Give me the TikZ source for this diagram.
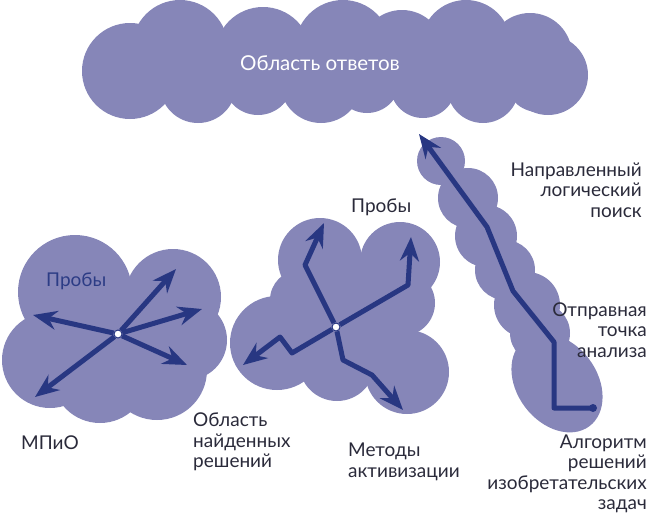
\documentclass[tikz,border=0pt]{standalone}
\usepackage{fontspec}
\setmainfont{Lato}
\usetikzlibrary{arrows.meta}
\definecolor{cloudc}{HTML}{8686B8}
\definecolor{navy}{HTML}{283782}
\definecolor{txt}{HTML}{2A2A3A}
\definecolor{lblnavy}{HTML}{2C3C85}
\begin{document}
\begin{tikzpicture}[x=1pt,y=-1pt,
  cloud/.style={fill=cloudc},
  arr/.style={draw=navy,line width=5pt,line join=round,-{Stealth[length=24pt,width=19pt,inset=8pt]}},
  lbl/.style={font=\fontsize{19}{20.5}\selectfont,text=txt,inner sep=0pt},
  dotw/.style={circle,fill=white,draw=navy,line width=1pt,inner sep=0pt,minimum size=8pt},
  dotn/.style={circle,fill=navy,inner sep=0pt,minimum size=8pt}]
\useasboundingbox (0,0) rectangle (650,514);
% top cloud
\fill[cloud] (130,45) rectangle (548,100);
\foreach \x/\y/\r in {130/71/48,180/48/48,263/55/48,343/48/48,402/52/42,466/45/45,530/55/42,548/75/40,
  198/85/38,258/80/35,321/82/41,367/80/33,423/85/33,483/87/36,538/80/32}
  \fill[cloud] (\x,\y) circle[radius=\r pt];
% left cloud
\foreach \x/\y/\r in {75/292/57,173/297/48,187/340/40,157/370/50,100/375/48,50/360/48,118/334/50}
  \fill[cloud] (\x,\y) circle[radius=\r pt];
% middle cloud
\foreach \x/\y/\r in {320/260/42,400/262/40,402/303/33,407/372/42,337/363/38,277/343/47,300/300/30,360/310/45}
  \fill[cloud] (\x,\y) circle[radius=\r pt];
% right elongated cloud
\foreach \x/\y/\r in {441/161/24,468/198/30,486/236/31,505/270/30,527/305/33,540/333/30}
  \fill[cloud] (\x,\y) circle[radius=\r pt];
\fill[cloud,rotate around={-53:(557,383)}] (557,383) ellipse[x radius=54pt,y radius=40pt];

% texts
\node[lbl,font=\fontsize{20.5}{22}\selectfont,text=white] (otv) at (320,63) {Область ответов};
\node[lbl,text=lblnavy,anchor=west] (prob1) at (46,281) {Пробы};
\node[lbl,anchor=west] (prob2) at (351,207) {Пробы};
\node[lbl,anchor=east,align=right] (napr) at (642,190) {Направленный\\логический\\поиск};
\node[lbl,anchor=east,align=right] (otpr) at (647,330) {Отправная\\точка\\анализа};
\node[lbl,anchor=west] (mpio) at (21,443) {МПиО};
\node[lbl,anchor=west,align=left] (obl) at (193,442) {Область\\найденных\\решений};
\node[lbl,anchor=west,align=left] (met) at (348,462) {Методы\\активизации};
\node[lbl,anchor=east,align=right] (alg) at (647,474) {Алгоритм\\решений\\изобретательских\\задач};

% left cloud arrows
\node[dotw] (c1) at (118,334) {};
\coordinate (t1a) at (176,269);
\coordinate (t1b) at (202,309);
\coordinate (t1c) at (33,315);
\coordinate (t1d) at (187,365);
\coordinate (t1e) at (35,397);
\foreach \t in {t1a,t1b,t1c,t1d,t1e} \draw[arr] (c1) -- (\t);

% middle cloud arrows
\node[dotw] (c2) at (336,327) {};
\coordinate (m1a) at (305,265); \coordinate (t2a) at (324,223);
\coordinate (m2a) at (408,285); \coordinate (t2b) at (411,237);
\coordinate (m3a) at (292,353); \coordinate (m3b) at (280,337); \coordinate (t2c) at (243,365);
\coordinate (m4a) at (343,360); \coordinate (m4b) at (372,375); \coordinate (t2d) at (403,410);
\draw[arr] (c2) -- (m1a) -- (t2a);
\draw[arr] (c2) -- (m2a) -- (t2b);
\draw[arr] (c2) -- (m3a) -- (m3b) -- (t2c);
\draw[arr] (c2) -- (m4a) -- (m4b) -- (t2d);

% right path
\node[dotn] (s3) at (593,408) {};
\coordinate (r1) at (554,408);
\coordinate (r2) at (554,342);
\coordinate (r3) at (513,291);
\coordinate (r4) at (487,227);
\coordinate (t3) at (419,134);
\draw[arr] (s3.center) -- (r1) -- (r2) -- (r3) -- (r4) -- (t3);
\end{tikzpicture}
\end{document}
